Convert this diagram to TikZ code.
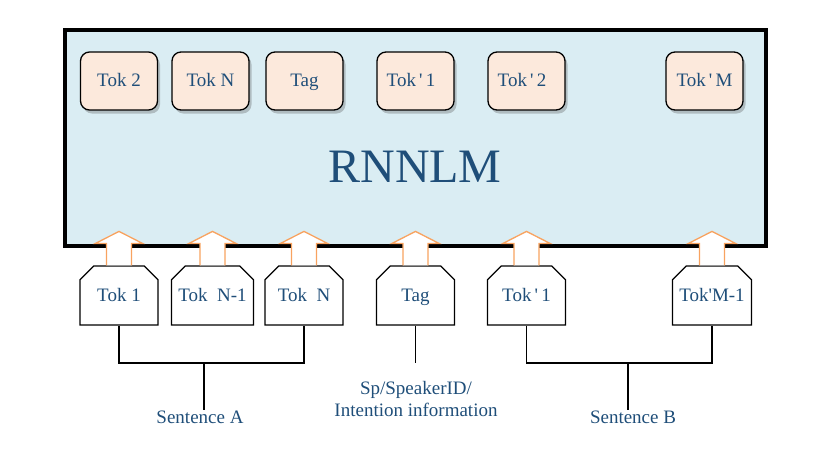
\documentclass[tikz,border=0pt]{standalone}
\usepackage{fontspec}
\setmainfont{Liberation Serif}
\usetikzlibrary{shapes.misc}
\usetikzlibrary{shadows}
\definecolor{lmfill}{RGB}{218,237,243}
\definecolor{tokfill}{RGB}{252,233,220}
\definecolor{txtblue}{RGB}{31,78,121}
\definecolor{liftorange}{RGB}{248,163,96}
\newcommand\tokfont{\fontsize{19}{22}\selectfont}
\newcommand\apos{\textquotesingle}
\newcommand\liftarrow[1]{%
  \draw[liftline] ([xshift=-12.5pt]#1.north) -- ++(0,-22) -- ++(-11,0)
    -- ++(23.5,-12) -- ++(23.5,12) -- ++(-11,0) -- ([xshift=12.5pt]#1.north);}

\begin{document}
\begin{tikzpicture}[x=1pt, y=-1pt,
    lmbox/.style={draw, line width=3.5pt, fill=lmfill, minimum width=701pt,
      minimum height=216pt, inner sep=0pt},
    outtok/.style={draw, rounded corners=9pt, fill=tokfill, line width=1.3pt,
      minimum width=77pt, minimum height=58pt, inner sep=0pt, text=txtblue,
      font=\tokfont, text height=13pt, text depth=1.6pt,
      drop shadow={shadow xshift=2.5pt, shadow yshift=-3.5pt,
      opacity=.3, fill=black!70}},
    intok/.style={draw, chamfered rectangle,
      chamfered rectangle corners={north west,north east},
      chamfered rectangle xsep=7pt, chamfered rectangle ysep=7pt,
      fill=white, line width=1.2pt, minimum width=78pt, minimum height=59pt,
      inner sep=0pt, text=txtblue, font=\tokfont, text height=13pt,
      text depth=0.6pt},
    liftline/.style={draw=liftorange, fill=white, line width=1.3pt},
    caption/.style={text=txtblue, font=\tokfont, inner sep=0pt, align=center},
    tree/.style={line width=1.4pt}]
    \useasboundingbox (0,0) rectangle (831,448);
    % language model
    \node[lmbox] (lm) at (415.5,138) {};
    \node[text=txtblue, font=\fontsize{48}{50}\selectfont] (title) at (415,167) {RNNLM};
    % predicted tokens
    \node[outtok] (o1) at (119,81) {Tok 2};
    \node[outtok] (o2) at (210.5,81) {Tok N};
    \node[outtok] (o3) at (304.5,81) {Tag};
    \node[outtok] (o4) at (415.5,81) {Tok\,\apos\,1\hspace*{9pt}};
    \node[outtok] (o5) at (526.5,81) {Tok\,\apos\,2\hspace*{9pt}};
    \node[outtok] (o6) at (704.5,81) {Tok\,\apos\,M};
    % input tokens
    \node[intok] (b1) at (119,295.5) {Tok 1};
    \node[intok] (b2) at (212.5,295.5) {Tok\ \ N-1};
    \node[intok] (b3) at (304,295.5) {Tok\ \ N};
    \node[intok] (b4) at (415.5,295.5) {Tag};
    \node[intok] (b5) at (526.5,295.5) {Tok\,\apos\,1};
    \node[intok] (b6) at (712,295.5) {Tok\apos M-1};
    \foreach \b in {b1,b2,b3,b4,b5,b6}
      \liftarrow{\b};
    % grouping
    \coordinate (jA) at (204,363);
    \coordinate (jB) at (628,363);
    \node[caption] (sa) at (200,417) {Sentence A};
    \node[caption] (info) at (416,399) {Sp/SpeakerID/\\Intention information};
    \node[caption] (sb) at (633,417) {Sentence B};
    \coordinate (jT) at (b4.south |- jA);
    \draw[tree] (b1.south) |- (jA) -| (b3.south);
    \draw[tree] (jA) -- (jA |- sa.north);
    \draw[tree] (b4.south) -- (jT);
    \draw[tree] (b5.south) |- (jB) -| (b6.south);
    \draw[tree] (jB) -- (jB |- sb.north);
  \end{tikzpicture}
\end{document}
